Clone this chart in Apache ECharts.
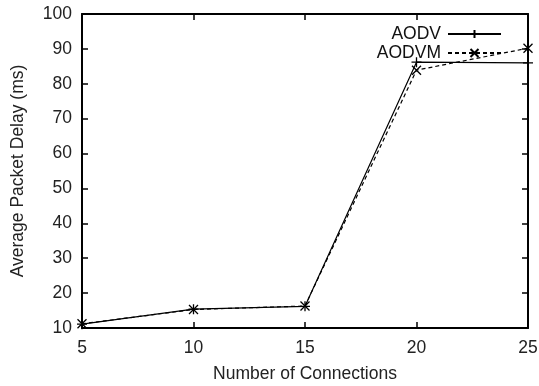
<!DOCTYPE html>
<html><head><meta charset="utf-8">
<script src="https://cdn.jsdelivr.net/npm/echarts@6/dist/echarts.min.js"></script>
<style>html,body{margin:0;padding:0;background:#fff}#c{width:539px;height:386px}</style>
</head><body><div id="c"></div>
<script>
var connections = [5, 10, 15, 20, 25];
var aodv = [11.1, 15.4, 16.2, 86.2, 86.0];
var aodvm = [11.2, 15.3, 16.3, 83.9, 90.2];
var xTicks = [5, 10, 15, 20, 25];
var yTicks = [10, 20, 30, 40, 50, 60, 70, 80, 90, 100];

function pairs(xs, ys) { return xs.map(function (x, i) { return [x, ys[i]]; }); }
var font = 'Liberation Sans, Arial, sans-serif';
var plus = 'path://M5,0L5,10M0,5L10,5';
var cross = 'path://M0,0L10,10M10,0L0,10';
var axisCommon = {
  type: 'value',
  axisLine: { show: true, onZero: false, lineStyle: { color: '#000', width: 2 } },
  axisTick: { show: true, inside: true, length: 6, lineStyle: { color: '#000', width: 1.5 } },
  splitLine: { show: false }
};
var chart = echarts.init(document.getElementById('c'));
chart.setOption({
  animation: false,
  backgroundColor: '#fff',
  grid: { left: 82, right: 11, top: 14, bottom: 58, containLabel: false, outerBoundsMode: 'none' },
  legend: {
    orient: 'vertical', right: 32, top: 20, align: 'right', itemGap: 1,
    itemWidth: 53, itemHeight: 10,
    textStyle: { fontFamily: font, fontSize: 17.5, color: '#111', padding: [0, 2, 0, 0] },
    data: ['AODV', 'AODVM']
  },
  xAxis: [
    Object.assign({}, axisCommon, {
      position: 'bottom', min: xTicks[0], max: xTicks[xTicks.length - 1], interval: 5,
      name: 'Number of Connections', nameLocation: 'middle', nameGap: 37,
      nameTextStyle: { fontFamily: font, fontSize: 17.5, color: '#222' },
      axisLabel: { fontFamily: font, fontSize: 17.5, color: '#222', margin: 11 }
    }),
    Object.assign({}, axisCommon, {
      position: 'top', min: xTicks[0], max: xTicks[xTicks.length - 1], interval: 5,
      axisLabel: { show: false }
    })
  ],
  yAxis: [
    Object.assign({}, axisCommon, {
      position: 'left', min: yTicks[0], max: yTicks[yTicks.length - 1], interval: 10,
      name: 'Average Packet Delay (ms)', nameLocation: 'middle', nameGap: 55,
      nameTextStyle: { fontFamily: font, fontSize: 17.5, color: '#222' },
      axisLabel: { fontFamily: font, fontSize: 17.5, color: '#222', margin: 10 }
    }),
    Object.assign({}, axisCommon, {
      position: 'right', min: yTicks[0], max: yTicks[yTicks.length - 1], interval: 10,
      axisLabel: { show: false }
    })
  ],
  series: [
    {
      name: 'AODV', type: 'line', data: pairs(connections, aodv),
      symbol: plus, symbolSize: 10,
      lineStyle: { color: '#000', width: 1.2 },
      itemStyle: { color: '#000', borderColor: '#000', borderWidth: 1.3 },
      z: 3
    },
    {
      name: 'AODVM', type: 'line', data: pairs(connections, aodvm),
      symbol: cross, symbolSize: 9,
      lineStyle: { color: '#000', width: 1.2, type: [4, 3] },
      itemStyle: { color: '#000', borderColor: '#000', borderWidth: 1.3 },
      z: 2
    }
  ]
});
</script></body></html>
